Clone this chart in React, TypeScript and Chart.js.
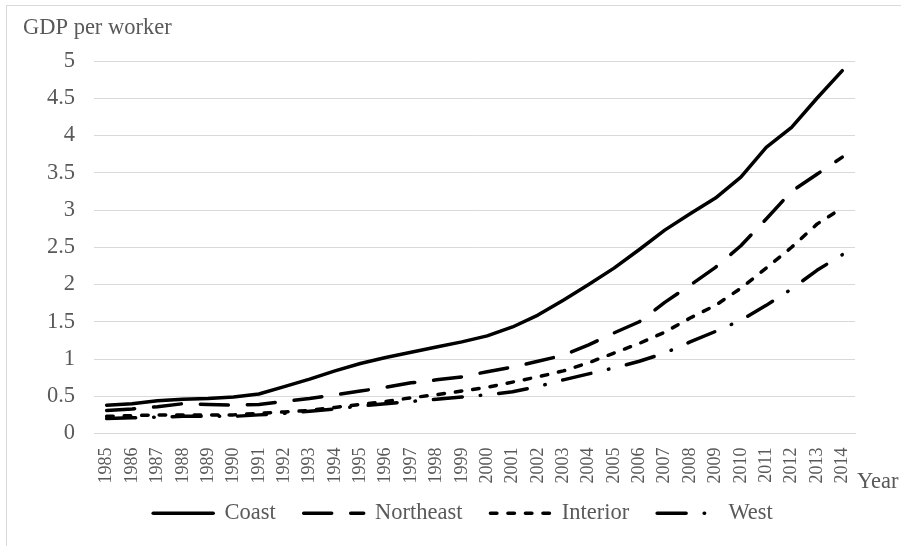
import React, { useEffect, useRef } from "react";
import { Chart, registerables } from "chart.js";

Chart.register(...registerables);

const years = [
  "1985", "1986", "1987", "1988", "1989", "1990", "1991", "1992", "1993", "1994",
  "1995", "1996", "1997", "1998", "1999", "2000", "2001", "2002", "2003", "2004",
  "2005", "2006", "2007", "2008", "2009", "2010", "2011", "2012", "2013", "2014",
];

const coast = [
  0.38, 0.40, 0.44, 0.46, 0.47, 0.49, 0.53, 0.63, 0.73, 0.84,
  0.94, 1.02, 1.09, 1.16, 1.23, 1.31, 1.43, 1.59, 1.79, 2.00,
  2.22, 2.47, 2.73, 2.95, 3.16, 3.44, 3.84, 4.11, 4.50, 4.87,
];

const northeast = [
  0.31, 0.33, 0.36, 0.40, 0.39, 0.38, 0.39, 0.43, 0.47, 0.52,
  0.57, 0.62, 0.68, 0.72, 0.76, 0.83, 0.89, 0.97, 1.05, 1.19,
  1.35, 1.50, 1.76, 1.99, 2.23, 2.52, 2.88, 3.25, 3.48, 3.71,
];

const interior = [
  0.23, 0.24, 0.25, 0.25, 0.25, 0.25, 0.27, 0.29, 0.31, 0.35,
  0.39, 0.43, 0.48, 0.52, 0.57, 0.62, 0.69, 0.76, 0.84, 0.95,
  1.08, 1.21, 1.36, 1.55, 1.72, 1.95, 2.22, 2.50, 2.81, 3.03,
];

const west = [
  0.20, 0.21, 0.22, 0.23, 0.23, 0.23, 0.25, 0.27, 0.30, 0.33,
  0.37, 0.40, 0.43, 0.46, 0.49, 0.52, 0.56, 0.63, 0.72, 0.80,
  0.88, 0.97, 1.08, 1.23, 1.37, 1.52, 1.72, 1.94, 2.19, 2.40,
];

const seriesNames = ["Coast", "Northeast", "Interior", "West"];
const yTicks = [0, 0.5, 1, 1.5, 2, 2.5, 3, 3.5, 4, 4.5, 5];

const LW = 3.5;
const dashes: number[][] = [[], [28, 19], [6.5, 11], [29, 18, 0.5, 18]];
const FONT = '"Liberation Serif", "Times New Roman", serif';
const TEXT = "#595959";
const GRID = "#d9d9d9";
const FS = 22.5;

const titlePlugin = {
  id: "axisTitles",
  afterLayout(chart: any) {
    const lg = chart.legend;
    if (lg) {
      const dx = -11.5;
      const dy = 474 - lg.top;
      lg.left += dx;
      lg.right += dx;
      lg.top += dy;
      lg.bottom += dy;
    }
  },
  afterDraw(chart: any) {
    const { ctx, chartArea } = chart;
    ctx.save();
    ctx.font = `${FS}px ${FONT}`;
    ctx.fillStyle = TEXT;
    ctx.textBaseline = "alphabetic";
    ctx.textAlign = "left";
    ctx.fillText("GDP per worker", 23, 34);
    ctx.fillText("Year", chartArea.right + 2, chartArea.bottom + 54);
    ctx.restore();
  },
};

export default function App() {
  const ref = useRef<HTMLCanvasElement | null>(null);

  useEffect(() => {
    if (!ref.current) return;
    const data = [coast, northeast, interior, west];
    const chart = new Chart(ref.current, {
      type: "line",
      data: {
        labels: years,
        datasets: data.map((d, i) => ({
          label: seriesNames[i],
          data: d,
          borderColor: "#000000",
          backgroundColor: "#000000",
          borderWidth: LW,
          borderDash: dashes[i],
          borderCapStyle: "round" as const,
          borderJoinStyle: "round" as const,
          pointRadius: 0,
          pointHoverRadius: 0,
          tension: 0,
          fill: false,
        })),
      },
      options: {
        responsive: false,
        animation: false,
        events: [],
        layout: { padding: { left: 0, right: 46, top: 61, bottom: 0 } },
        scales: {
          x: {
            type: "category",
            offset: true,
            grid: { display: false, drawTicks: false },
            border: { display: true, color: GRID, width: 1 },
            ticks: {
              autoSkip: false,
              minRotation: 90,
              maxRotation: 90,
              padding: 14,
              color: TEXT,
              font: { family: FONT, size: 18 },
            },
            afterFit(scale: any) {
              scale.height = 52;
            },
          },
          y: {
            min: 0,
            max: 5,
            afterBuildTicks(scale: any) {
              scale.ticks = yTicks.map((v) => ({ value: v }));
            },
            grid: { color: GRID, lineWidth: 1, drawTicks: false },
            border: { display: false },
            ticks: {
              padding: 19,
              color: TEXT,
              font: { family: FONT, size: FS },
              callback: (v: any) => String(v),
            },
            afterFit(scale: any) {
              scale.width = 94;
            },
          },
        },
        plugins: {
          tooltip: { enabled: false },
          legend: {
            display: true,
            position: "bottom",
            fullSize: false,
            labels: {
              usePointStyle: true,
              pointStyle: "line",
              pointStyleWidth: 60,
              padding: 28,
              color: TEXT,
              font: { family: FONT, size: FS },
              generateLabels(c: any) {
                const items = Chart.defaults.plugins.legend.labels.generateLabels(c);
                return items.map((it: any, i: number) => ({
                  ...it,
                  pointStyle: "line",
                  lineDash: dashes[i],
                  lineWidth: LW,
                  lineCap: "round",
                  strokeStyle: "#000000",
                  fillStyle: "#000000",
                  fontColor: TEXT,
                }));
              },
            },
          },
        },
      },
      plugins: [titlePlugin],
    });
    return () => chart.destroy();
  }, []);

  return (
    <div style={{ position: "absolute", left: 0, top: 0, width: 901, height: 546, overflow: "hidden", background: "#fff" }}>
      <div
        style={{
          position: "absolute",
          left: 6,
          top: 5,
          width: 1000,
          height: 1000,
          border: `1px solid ${GRID}`,
          boxSizing: "border-box",
        }}
      />
      <canvas ref={ref} width={901} height={546} style={{ position: "absolute", left: 0, top: 0, width: 901, height: 546 }} />
    </div>
  );
}
